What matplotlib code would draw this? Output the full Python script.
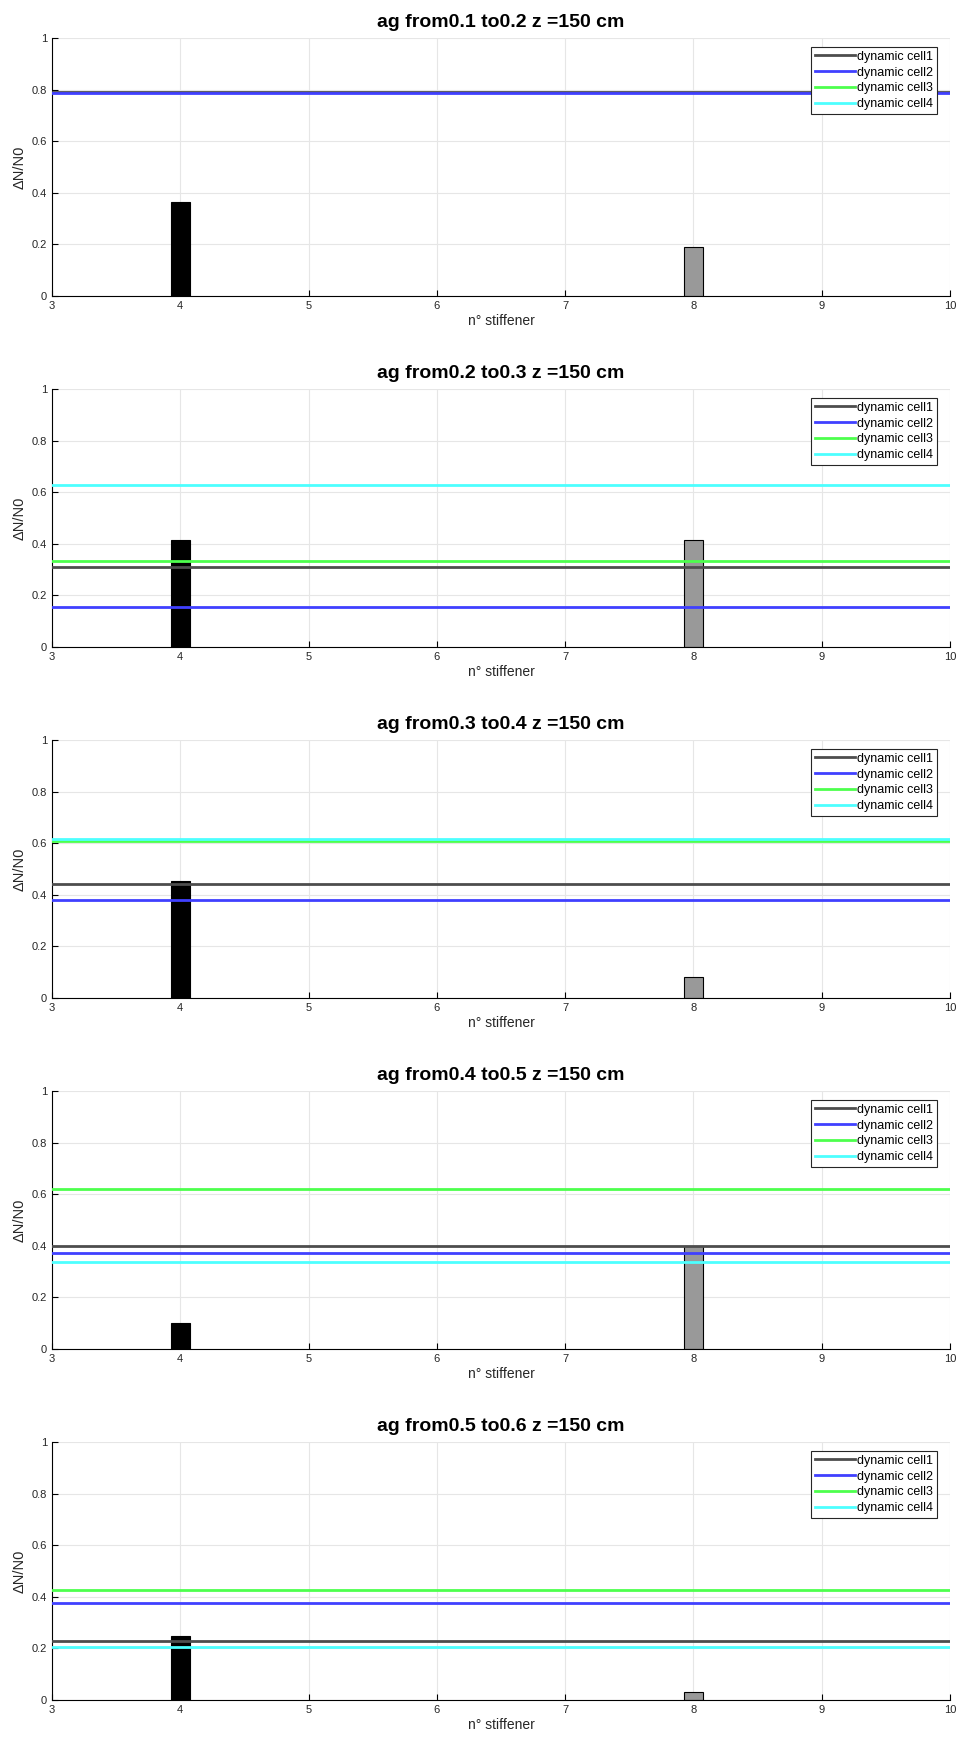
import numpy as np
import matplotlib
matplotlib.use("Agg")
import matplotlib.pyplot as plt

plt.rcParams["font.family"] = ["Liberation Sans", "DejaVu Sans"]

# data
ag_from = [0.1, 0.2, 0.3, 0.4, 0.5]
ag_to = [0.2, 0.3, 0.4, 0.5, 0.6]
stiffeners = [4, 8]
bar_vals = [
    [0.365, 0.19],
    [0.415, 0.415],
    [0.455, 0.08],
    [0.10, 0.40],
    [0.248, 0.032],
]
cell1 = [0.792, 0.31, 0.443, 0.398, 0.23]
cell2 = [0.787, 0.155, 0.38, 0.373, 0.376]
cell3 = [np.nan, 0.332, 0.61, 0.62, 0.425]
cell4 = [np.nan, 0.627, 0.618, 0.338, 0.206]
cell_names = ["dynamic cell1", "dynamic cell2", "dynamic cell3", "dynamic cell4"]
cell_colors = [(0.3, 0.3, 0.3), (0.25, 0.25, 1.0), (0.3, 1.0, 0.3), (0.3, 1.0, 1.0)]
bar_colors = ["black", (0.6, 0.6, 0.6)]
x_range = [3, 10]

W, H = 957, 1742
fig = plt.figure(figsize=(W / 100, H / 100), dpi=100)

left, right = 52, 950
ax_h = 258
for i in range(5):
    bottom_px = 296 + 351 * i
    ax = fig.add_axes([left / W, 1 - bottom_px / H, (right - left) / W, ax_h / H])
    cells = [cell1[i], cell2[i], cell3[i], cell4[i]]
    for name, val, col in zip(cell_names, cells, cell_colors):
        ax.plot(x_range, [val, val], color=col, lw=2, label=name, zorder=3)
    ax.bar(stiffeners, bar_vals[i], width=0.15, color=bar_colors,
           edgecolor="black", linewidth=0.8, zorder=2)
    ax.set_xlim(3, 10)
    ax.set_ylim(0, 1)
    ax.set_xticks(range(3, 11))
    ax.set_yticks(np.arange(0, 1.01, 0.2))
    ax.set_yticklabels(["0", "0.2", "0.4", "0.6", "0.8", "1"])
    ax.grid(True, color=(0.9, 0.9, 0.9), lw=0.8, zorder=0)
    ax.set_axisbelow(True)
    for s in ["top", "right"]:
        ax.spines[s].set_visible(False)
    ax.tick_params(direction="in", length=4, labelsize=8, colors="black",
                   labelcolor=(0.15, 0.15, 0.15))
    ax.set_title(f"ag from{ag_from[i]} to{ag_to[i]} z =150 cm",
                 fontsize=14, fontweight="bold", pad=8)
    ax.set_xlabel("n° stiffener", fontsize=10, color=(0.15, 0.15, 0.15), labelpad=2)
    ax.set_ylabel("ΔN/N0", fontsize=10.5, color=(0.15, 0.15, 0.15), labelpad=4)
    leg = ax.legend(loc="upper right", bbox_to_anchor=(0.985, 0.965), fontsize=9,
                    fancybox=False, framealpha=1, edgecolor=(0.15, 0.15, 0.15),
                    handlelength=3.2, handletextpad=0.15, borderpad=0.3,
                    labelspacing=0.3, borderaxespad=0)
    leg.get_frame().set_linewidth(0.8)

fig.savefig("out.png", dpi=100)
